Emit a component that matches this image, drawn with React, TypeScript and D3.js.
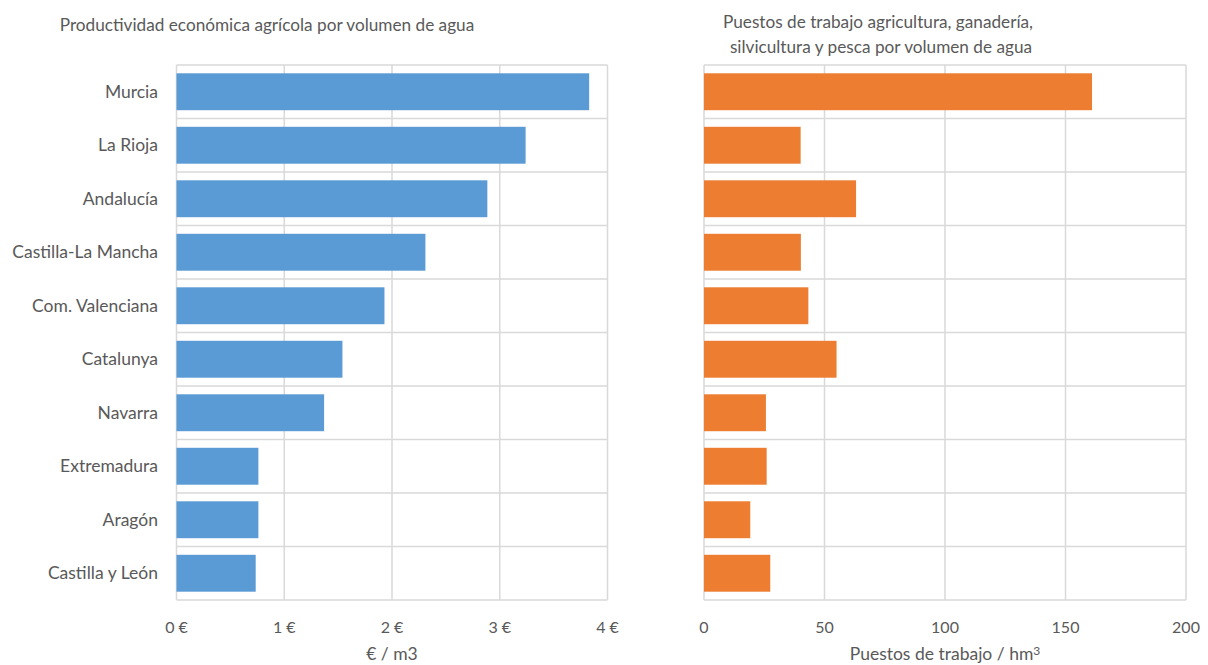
import React, { useEffect, useRef } from 'react';
import * as d3 from 'd3';

const regions = ['Murcia', 'La Rioja', 'Andalucía', 'Castilla-La Mancha', 'Com. Valenciana', 'Catalunya', 'Navarra', 'Extremadura', 'Aragón', 'Castilla y León'];
const euroPerM3 = [3.83, 3.24, 2.885, 2.31, 1.93, 1.54, 1.37, 0.76, 0.76, 0.735];
const jobsPerHm3 = [161, 40.1, 63.1, 40.2, 43.3, 55, 25.7, 26, 19.2, 27.5];
const euroTicks = [0, 1, 2, 3, 4];
const jobTicks = [0, 50, 100, 150, 200];

const FONT = 'Lato, "Open Sans", sans-serif';
const TEXT = '#595959';
const GRID = '#d9d9d9';

export default function App() {
  const svgRef = useRef<SVGSVGElement>(null);

  useEffect(() => {
    const svg = d3.select(svgRef.current).html('');
    const top = 65, bottom = 600;

    const y = d3.scaleBand<string>().domain(regions).range([top, bottom]).paddingInner(0.31).paddingOuter(0.155);
    const rowEdges = d3.range(regions.length + 1).map(i => top + i * (bottom - top) / regions.length);

    const panel = (opts: { x0: number; x1: number; max: number; ticks: number[]; values: number[]; color: string; fmt: (d: number) => string; axisTitle: string; title: string[]; titleX: number[]; titleY: number[]; labels: boolean; sup?: boolean }) => {
      const x = d3.scaleLinear().domain([0, opts.max]).range([opts.x0, opts.x1]);
      const g = svg.append('g');

      // grid
      g.selectAll('.vgrid').data(opts.ticks).enter().append('line')
        .attr('x1', d => x(d)).attr('x2', d => x(d)).attr('y1', top).attr('y2', bottom)
        .attr('stroke', GRID).attr('stroke-width', 1.5);
      g.selectAll('.hgrid').data(rowEdges).enter().append('line')
        .attr('x1', opts.x0).attr('x2', opts.x1).attr('y1', d => d).attr('y2', d => d)
        .attr('stroke', GRID).attr('stroke-width', 1.5);

      g.selectAll('.bar').data(opts.values).enter().append('rect')
        .attr('x', x(0)).attr('y', (d, i) => y(regions[i])!)
        .attr('width', d => x(d) - x(0)).attr('height', y.bandwidth())
        .attr('fill', opts.color);

      g.selectAll('.tick').data(opts.ticks).enter().append('text')
        .attr('x', d => x(d)).attr('y', 627).attr('dy', '0.35em')
        .attr('text-anchor', 'middle').attr('fill', TEXT)
        .style('font-family', FONT).style('font-size', '16px')
        .text(d => opts.fmt(d));

      const at = g.append('text')
        .attr('x', (opts.x0 + opts.x1) / 2).attr('y', 654).attr('dy', '0.35em')
        .attr('text-anchor', 'middle').attr('fill', TEXT)
        .style('font-family', FONT).style('font-size', '17.5px')
        .text(opts.axisTitle);
      if (opts.sup) at.append('tspan').attr('dy', '-0.45em').style('font-size', '12px').text('3');

      opts.title.forEach((t, i) => {
        g.append('text')
          .attr('x', opts.titleX[i]).attr('y', opts.titleY[i]).attr('dy', '0.35em')
          .attr('text-anchor', 'middle').attr('fill', TEXT)
          .style('font-family', FONT).style('font-size', '17.2px')
          .text(t);
      });

      if (opts.labels) {
        g.selectAll('.cat').data(regions).enter().append('text')
          .attr('x', 158).attr('y', d => y(d)! + y.bandwidth() / 2).attr('dy', '0.35em')
          .attr('text-anchor', 'end').attr('fill', TEXT)
          .style('font-family', FONT).style('font-size', '17.5px')
          .text(d => d);
      }
    };

    panel({
      x0: 176.5, x1: 607.5, max: 4, ticks: euroTicks, values: euroPerM3, color: '#5b9bd5',
      fmt: d => `${d} €`, axisTitle: '€ / m3',
      title: ['Productividad económica agrícola por volumen de agua'], titleX: [267], titleY: [25], labels: true,
    });
    panel({
      x0: 704, x1: 1186, max: 200, ticks: jobTicks, values: jobsPerHm3, color: '#ed7d31',
      fmt: d => `${d}`, axisTitle: 'Puestos de trabajo / hm', sup: true,
      title: ['Puestos de trabajo agricultura, ganadería,', 'silvicultura y pesca por volumen de agua'], titleX: [878, 881], titleY: [22, 47], labels: false,
    });
  }, []);

  return (
    <svg ref={svgRef} width={1208} height={665}
      style={{ position: 'absolute', left: 0, top: 0, background: '#fff', display: 'block' }} />
  );
}
